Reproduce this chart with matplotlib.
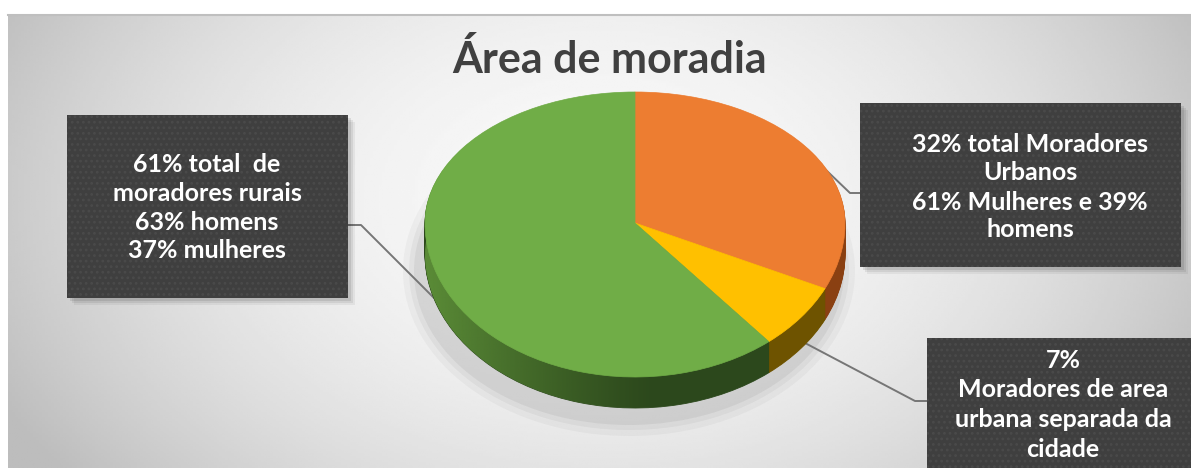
import numpy as np
import matplotlib
matplotlib.use('Agg')
import matplotlib.pyplot as plt
from matplotlib.patches import PathPatch, Rectangle, Ellipse
from matplotlib.path import Path
from matplotlib.colors import to_rgb

# ==========================================
# dados
# ==========================================
categorias = ['Moradores urbanos', 'Área urbana separada', 'Moradores rurais']
valores = [32, 7, 61]
cores_topo = ['#ED7D31', '#FFC000', '#70AD47']
cores_lado = ['#8A4012', '#6E5300', '#2C481C']

titulo = 'Área de moradia'
rotulo_rural = ['61% total  de', 'moradores rurais', '63% homens', '37% mulheres']
rotulo_urbano = ['32% total Moradores', 'Urbanos', '61% Mulheres e 39%', 'homens']
rotulo_separada = ['7%', 'Moradores de area', 'urbana separada da', 'cidade']

W, H = 1191, 468
FONTE = ['Lato', 'DejaVu Sans']

# geometria da pizza (pixels)
CX, CY = 635, 223
RX, RY_TOPO, RY_BAIXO = 210, 131, 154
PROF = 31


def projetar(v, dy=0.0):
    # circulo unitario -> elipse com leve perspectiva
    x = CX + RX * v[:, 0]
    y = np.where(v[:, 1] > 0, CY - RY_TOPO * v[:, 1], CY - RY_BAIXO * v[:, 1]) + dy
    return np.column_stack([x, y])


def caixa(ax, x0, y0, x1, y1):
    # sombra
    for k, a in [(7, 0.05), (5, 0.07), (3, 0.09)]:
        ax.add_patch(Rectangle((x0 + k, y0 + k), x1 - x0, y1 - y0, facecolor='#000000',
                               edgecolor='none', alpha=a, zorder=5))
    ax.add_patch(Rectangle((x0, y0), x1 - x0, y1 - y0, facecolor='#3F3F3F',
                           edgecolor='#4A4A4A', linewidth=0, hatch='...', zorder=6))


def linhas_texto(ax, cx, bases, linhas):
    for b, t in zip(bases, linhas):
        ax.text(cx, b, t, ha='center', va='baseline', color='white', fontsize=18,
                fontweight='bold', family=FONTE, zorder=8)


fig = plt.figure(figsize=(W / 100, H / 100), dpi=100)
fig.patch.set_facecolor('white')
ax = fig.add_axes([0, 0, 1, 1])
plt.rcParams['hatch.linewidth'] = 1.2

# pizza pela propria biblioteca, depois projetada
fatias, _ = ax.pie(valores, colors=cores_topo, startangle=90, counterclock=False,
                   radius=1, center=(0, 0), wedgeprops=dict(linewidth=0))
caminhos = []
for f in fatias:
    p = f.get_path()
    caminhos.append((p.vertices.copy(), p.codes))
    f.remove()

ax.set_xlim(0, W)
ax.set_ylim(H, 0)
ax.set_aspect('auto')
ax.axis('off')

# fundo com gradiente radial
xx, yy = np.meshgrid(np.linspace(8, W, 400), np.linspace(14, H, 200))
r2 = ((xx - 600) / 620) ** 2 + ((yy - 200) / 420) ** 2
tom = np.clip(0.975 - 0.2 * r2, 0.74, 1.0)
ax.imshow(tom, cmap='gray', vmin=0, vmax=1, extent=(8, W, H, 14), aspect='auto',
          interpolation='bilinear', zorder=0)
ax.plot([8, W], [14.5, 14.5], color='#BFBFBF', lw=1.5, zorder=1)

# sombra da pizza
for k, a in [(16, 0.03), (10, 0.04), (5, 0.05)]:
    ax.add_patch(Ellipse((CX - 6, CY + 48), 2 * RX + 2 * k, 2 * RY_BAIXO + 2 * k - 10,
                         facecolor='#000000', edgecolor='none', alpha=a, zorder=1.5))

# linhas de chamada
cor_linha = '#767676'
ax.plot([348, 361, 436], [225, 225, 300], color=cor_linha, lw=1.4, zorder=2)
ax.plot([803, 850, 860], [148, 193, 193], color=cor_linha, lw=1.4, zorder=2)
ax.plot([805, 915, 927], [343, 401, 401], color=cor_linha, lw=1.4, zorder=2)

# lateral (camadas)
for d in np.arange(PROF, 0, -1.0):
    for (v, c), cor in zip(caminhos, cores_lado):
        ax.add_patch(PathPatch(Path(projetar(v, d), c), facecolor=cor, edgecolor=cor,
                               lw=0.6, zorder=3))

# brilho da lateral verde, mais claro a esquerda
v_verde, c_verde = caminhos[2]
clip = PathPatch(Path(projetar(v_verde, PROF), c_verde), facecolor='none', edgecolor='none')
ax.add_patch(clip)
gx = np.linspace(0, 1, 300)
alfa = np.clip(1 - gx / 0.55, 0, 1) ** 1.2
brilho = np.zeros((2, 300, 4))
brilho[..., :3] = to_rgb('#5B8C37')
brilho[..., 3] = alfa
im = ax.imshow(brilho, extent=(CX - RX, CX + RX, CY + RY_BAIXO + PROF, CY - RY_TOPO),
               aspect='auto', interpolation='bilinear', zorder=3.5)
im.set_clip_path(clip)

# topo
for (v, c), cor in zip(caminhos, cores_topo):
    ax.add_patch(PathPatch(Path(projetar(v), c), facecolor=cor, edgecolor=cor, lw=0.5, zorder=4))

# titulo
ax.text(610, 73, titulo, ha='center', va='baseline', color='#404040', fontsize=31,
        fontweight='bold', family=FONTE, zorder=8)

# caixas de rotulo
caixa(ax, 67, 115, 348, 298)
linhas_texto(ax, 207, [172, 201, 230, 258], rotulo_rural)
caixa(ax, 860, 103, 1181, 267)
linhas_texto(ax, 1030, [152, 180, 210, 237], rotulo_urbano)
caixa(ax, 927, 338, 1200, 480)
linhas_texto(ax, 1063, [368, 397, 427, 457], rotulo_separada)

ax.set_xlim(0, W)
ax.set_ylim(H, 0)

fig.savefig('out.png', dpi=100, facecolor='white')
